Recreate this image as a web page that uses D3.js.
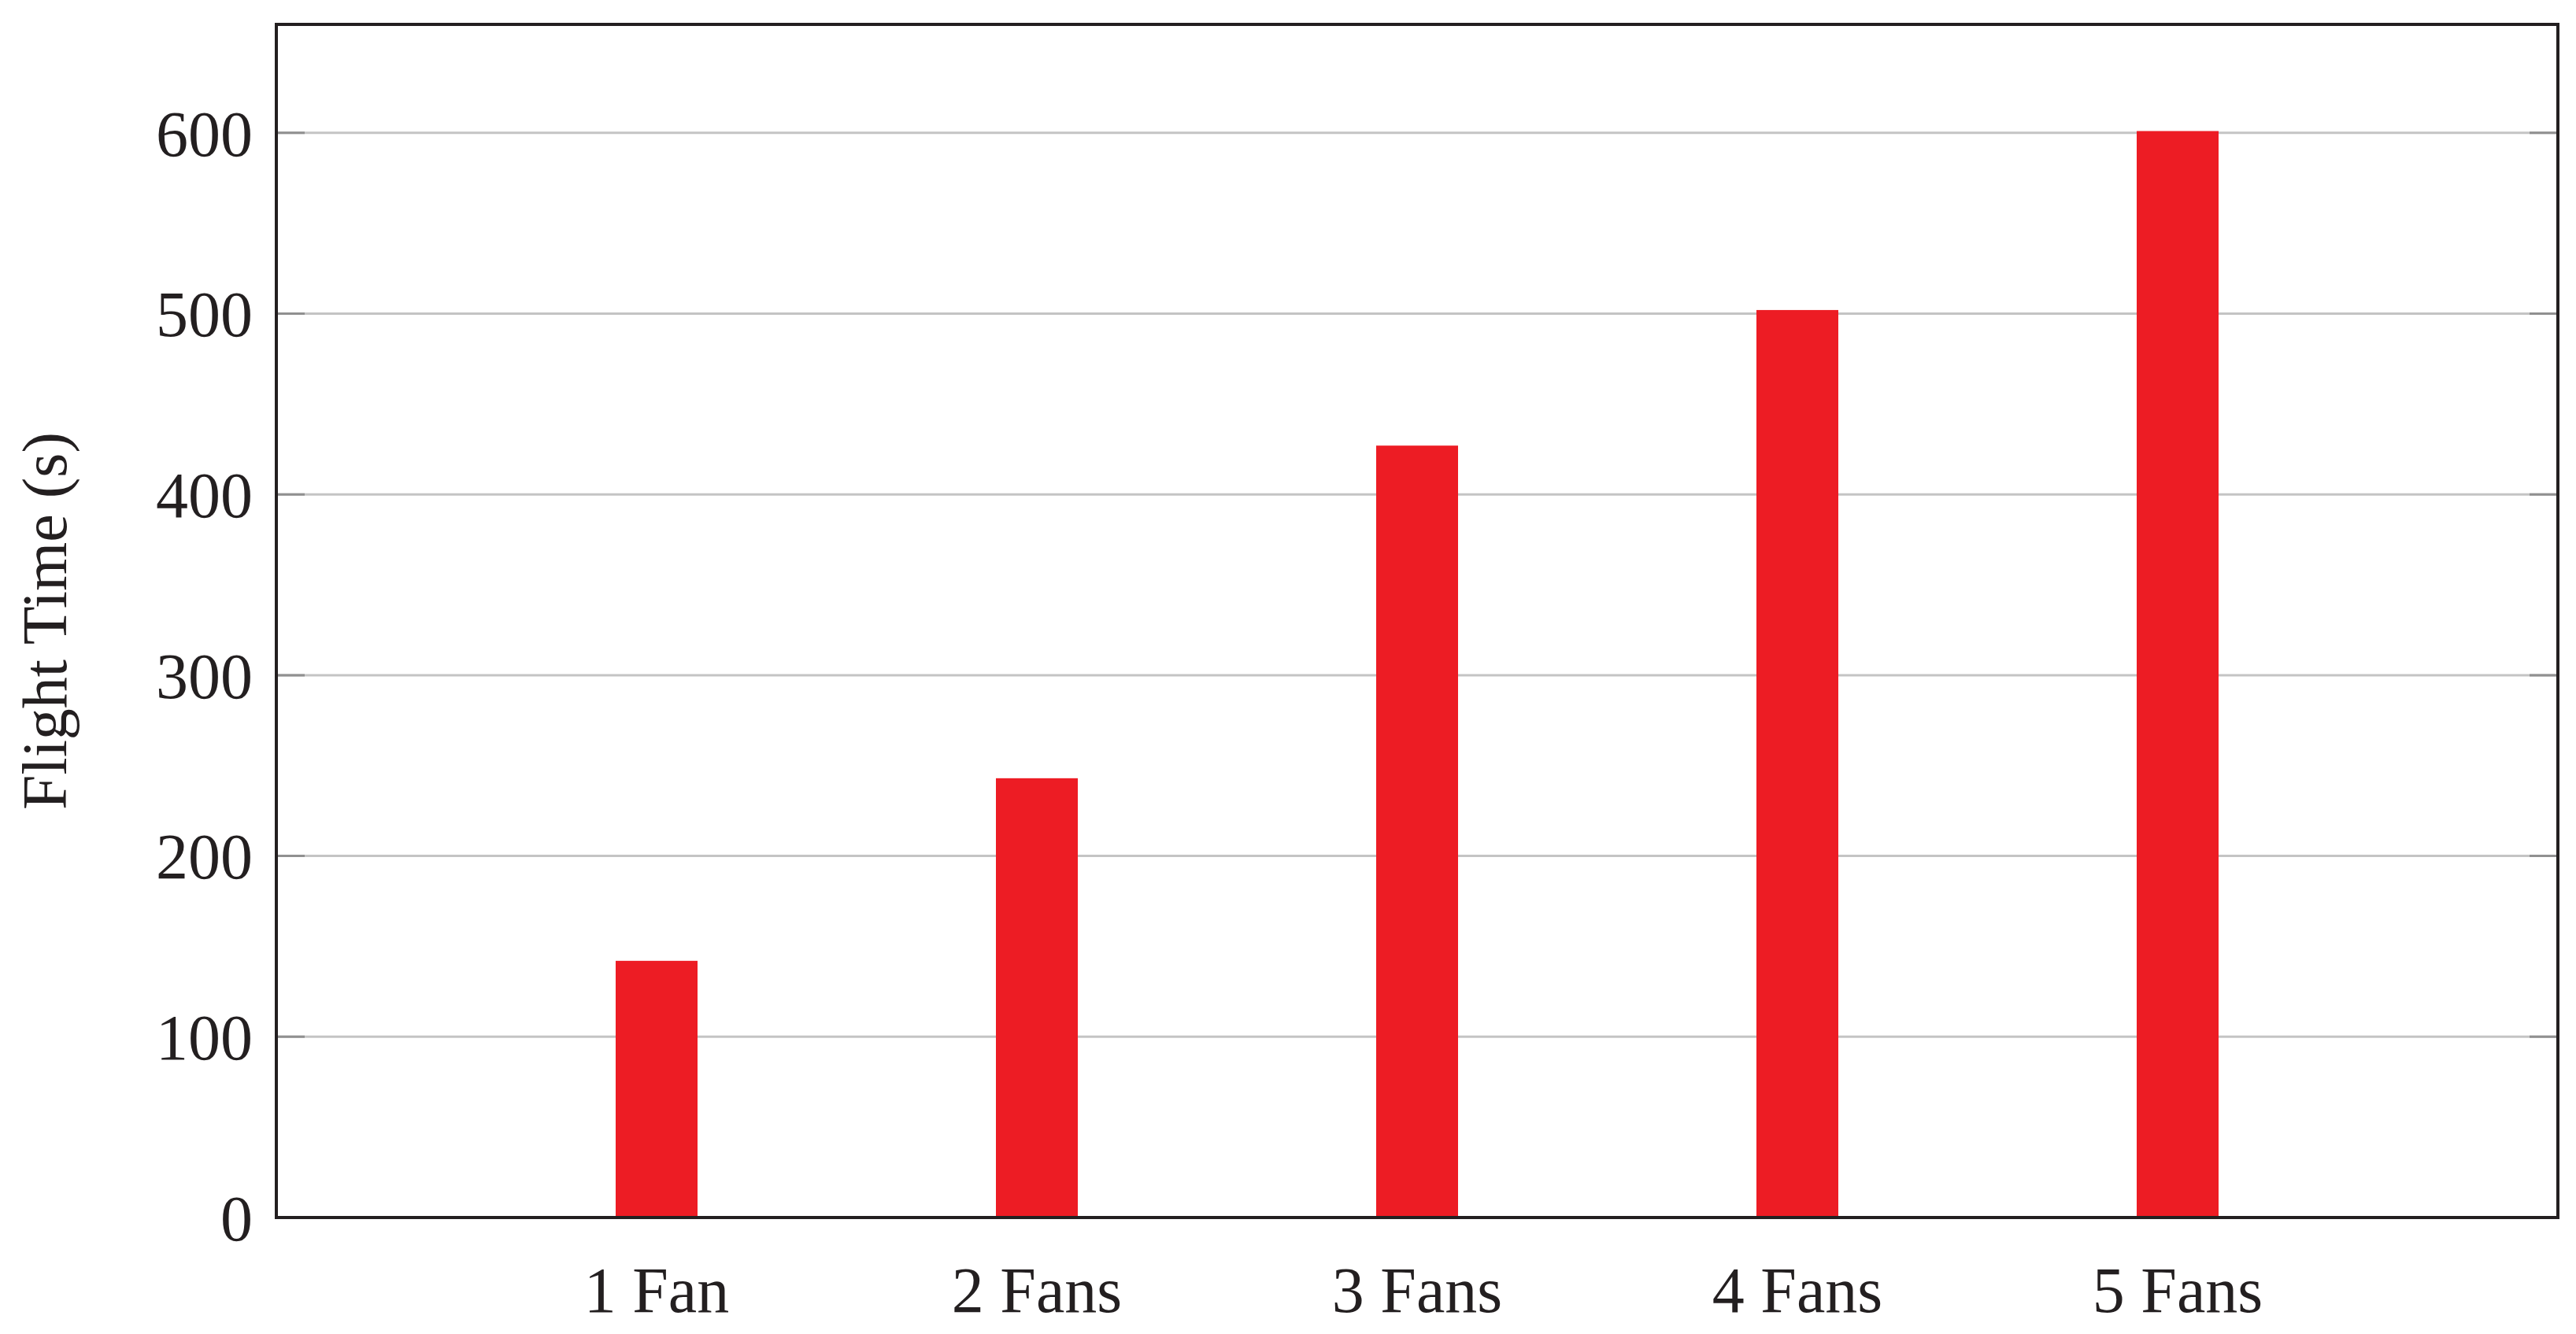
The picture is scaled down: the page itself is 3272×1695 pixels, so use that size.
<!DOCTYPE html>
<html>
<head>
<meta charset="utf-8">
<script src="https://cdn.jsdelivr.net/npm/d3@7"></script>
<style>
  body { margin: 0; background: #fff; }
  text { font-family: "Liberation Serif", "DejaVu Serif", serif; fill: #231f20; }
</style>
</head>
<body>
<svg id="chart"></svg>
<script>
const categories = ["1 Fan", "2 Fans", "3 Fans", "4 Fans", "5 Fans"];
const flightTimes = [142, 243, 427, 502, 601];
const yTicks = [0, 100, 200, 300, 400, 500, 600];

const width = 3272, height = 1695;
const margin = {left: 351, right: 23, top: 31, bottom: 148};

const svg = d3.select("#chart").attr("width", width).attr("height", height);

const x = d3.scaleLinear().domain([0, categories.length + 1])
    .range([margin.left, width - margin.right]);
const y = d3.scaleLinear().domain([0, 660])
    .range([height - margin.bottom, margin.top]);

// grid lines
svg.append("g")
    .selectAll("line")
    .data(yTicks.slice(1))
    .join("line")
    .attr("x1", margin.left).attr("x2", width - margin.right)
    .attr("y1", d => y(d)).attr("y2", d => y(d))
    .attr("stroke", "#c4c4c4").attr("stroke-width", 3);

// inner ticks both sides
[margin.left, width - margin.right].forEach((xx, i) => {
    svg.append("g")
        .selectAll("line")
        .data(yTicks.slice(1))
        .join("line")
        .attr("x1", xx).attr("x2", xx + (i === 0 ? 36 : -36))
        .attr("y1", d => y(d)).attr("y2", d => y(d))
        .attr("stroke", "#909090").attr("stroke-width", 3);
});

const barWidth = 104;
svg.append("g")
    .selectAll("rect")
    .data(flightTimes)
    .join("rect")
    .attr("x", (d, i) => x(i + 1) - barWidth / 2)
    .attr("width", barWidth)
    .attr("y", d => y(d))
    .attr("height", d => y(0) - y(d))
    .attr("fill", "#ed1c24");

// frame
svg.append("rect")
    .attr("x", margin.left).attr("y", margin.top)
    .attr("width", width - margin.left - margin.right)
    .attr("height", height - margin.top - margin.bottom)
    .attr("fill", "none").attr("stroke", "#231f20").attr("stroke-width", 4);

// y labels
svg.append("g")
    .attr("text-anchor", "end")
    .selectAll("text")
    .data(yTicks)
    .join("text")
    .attr("x", margin.left - 30)
    .attr("y", d => y(d))
    .attr("dy", "0.35em")
    .attr("font-size", 82)
    .text(d => d);

// x labels
svg.append("g")
    .attr("text-anchor", "middle")
    .selectAll("text")
    .data(categories)
    .join("text")
    .attr("x", (d, i) => x(i + 1))
    .attr("y", height - 28)
    .attr("font-size", 82)
    .text(d => d);

svg.append("text")
    .attr("transform", `translate(${84},${y(330)}) rotate(-90)`)
    .attr("text-anchor", "middle")
    .attr("font-size", 80)
    .text("Flight Time (s)");
</script>
</body>
</html>
